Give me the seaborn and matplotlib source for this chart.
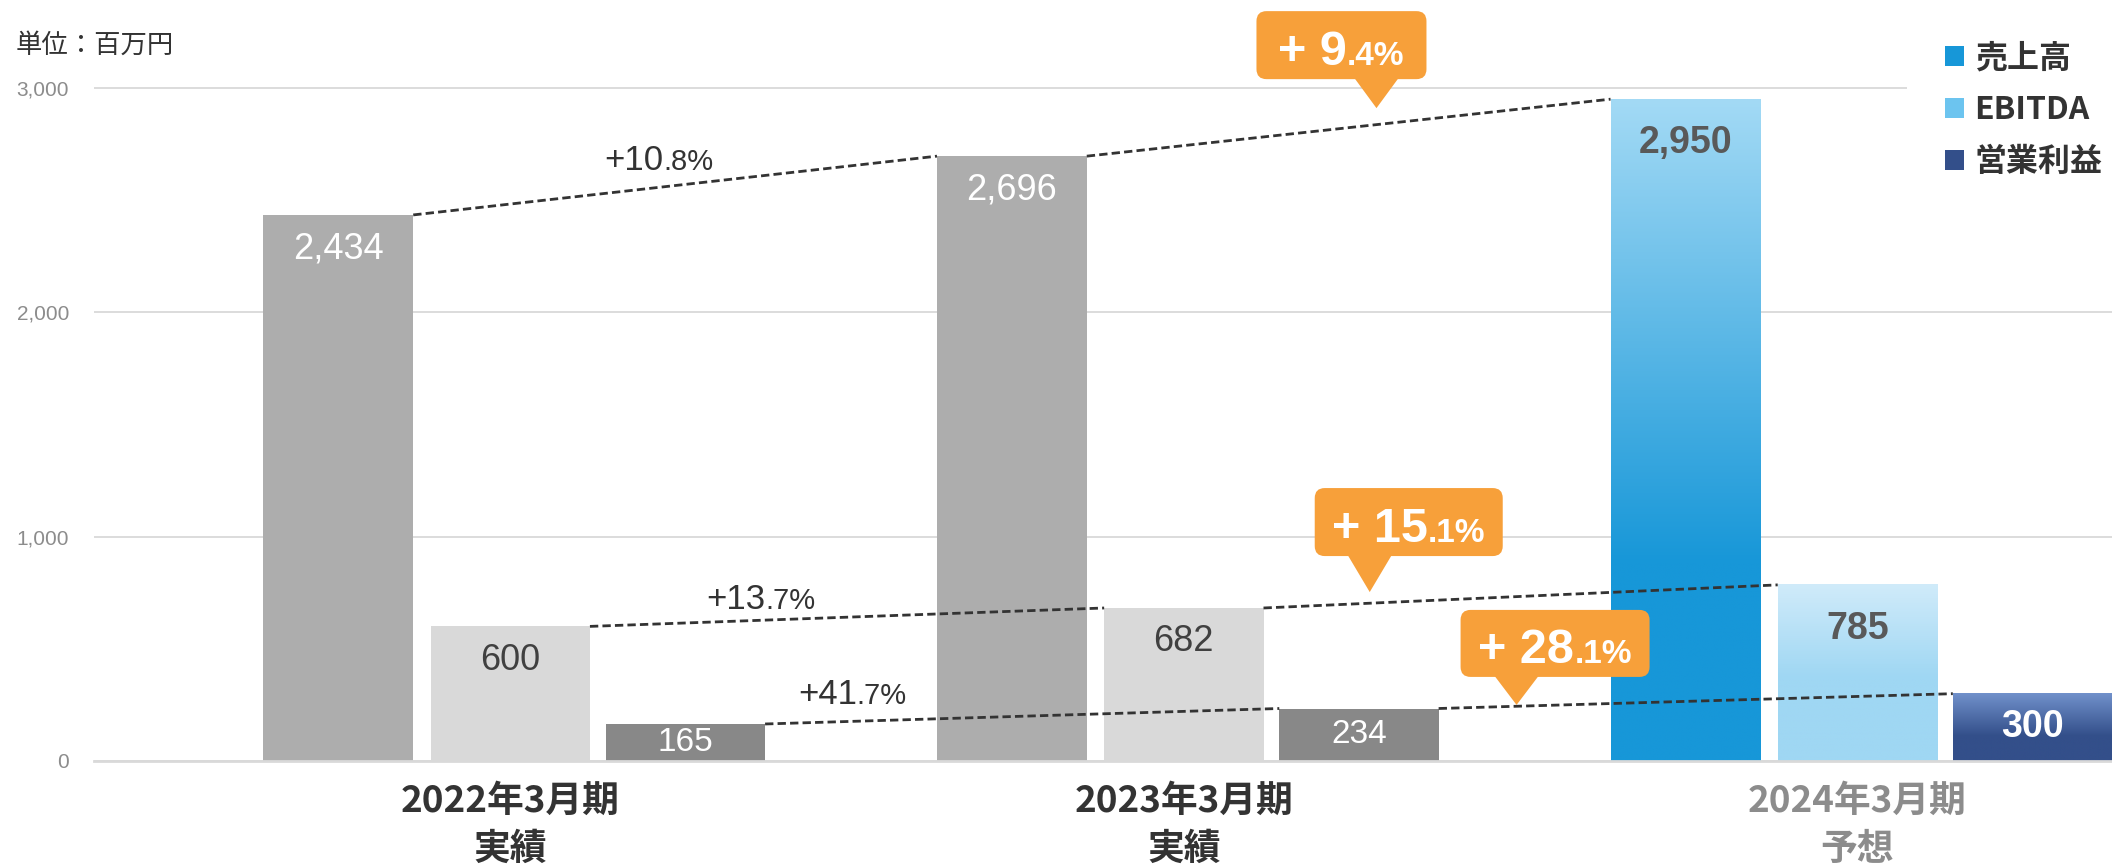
import numpy as np
import pandas as pd
import matplotlib
matplotlib.use("Agg")
import matplotlib.pyplot as plt
import matplotlib.colors as mcolors
import seaborn as sns
from matplotlib.patches import Patch, FancyBboxPatch, Polygon
from matplotlib.transforms import ScaledTranslation

# ---------------- DATA ----------------
periods = ["2022年3月期\n実績", "2023年3月期\n実績", "2024年3月期\n予想"]
forecast = [False, False, True]
series = ["売上高", "EBITDA", "営業利益"]
sales = [2434, 2696, 2950]
ebitda = [600, 682, 785]
op_income = [165, 234, 300]
growth_prev = ["+10.8%", "+13.7%", "+41.7%"]   # 2022 -> 2023
growth_next = ["+9.4%", "+15.1%", "+28.1%"]    # 2023 -> 2024 (callouts)
y_ticks = [0, 1000, 2000, 3000]
# --------------------------------------

DPI = 100
W, H = 2112, 865
PX = 1 / DPI

series_colors = ["#1797d8", "#6cc4ef", "#334f8a"]
gray_colors = ["#adadad", "#d9d9d9", "#888888"]
# gradient for forecast bars: (solid part as share of bar height, bottom colour, top colour)
gradients = [(0.30, "#1797d8", "#a3daf5"),
             (0.47, "#9fd7f3", "#d0ebfa"),
             (0.37, "#334f8a", "#7191cb")]
ORANGE = "#f7a03a"
DARK = "#333333"

sns.set_style("white")
plt.rcParams["font.family"] = ["Liberation Sans", "Noto Sans CJK JP", "DejaVu Sans"]
plt.rcParams["lines.scale_dashes"] = False
JP = ["Noto Sans CJK JP", "DejaVu Sans"]

fig = plt.figure(figsize=(W / DPI, H / DPI), dpi=DPI)
ax = fig.add_axes([94 / W, 104 / H, 2018 / W, 761 / H])

values = [sales, ebitda, op_income]
df = pd.DataFrame({
    "period": periods * len(series),
    "series": np.repeat(series, len(periods)),
    "value": sales + ebitda + op_income,
})

sns.barplot(data=df, x="period", y="value", hue="series", hue_order=series,
            palette=series_colors, saturation=1, width=0.78, gap=0.09,
            errorbar=None, legend=False, ax=ax, zorder=2)

XLIM = (-0.618, 2.378)
YLIM = (0, 3392)

# sales bars are a little narrower than the others
for p in ax.containers[0].patches:
    w = p.get_width()
    p.set_x(p.get_x() + w * 0.05)
    p.set_width(w * 0.94)

# recolour bars: actuals in gray, forecast with gradient
for i, cont in enumerate(ax.containers):
    for j, p in enumerate(cont.patches):
        p.set_edgecolor("none")
        if not forecast[j]:
            p.set_facecolor(gray_colors[i])
            continue
        solid, c0, c1 = gradients[i]
        x0, w, h = p.get_x(), p.get_width(), p.get_height()
        t = np.linspace(0, 1, 256)
        k = np.clip((t - solid) / (1 - solid), 0, 1)[:, None]
        rgb = (1 - k) * np.array(mcolors.to_rgb(c0)) + k * np.array(mcolors.to_rgb(c1))
        ax.imshow(rgb[:, None, :], extent=[x0, x0 + w, 0, h], origin="lower",
                  aspect="auto", interpolation="bilinear", zorder=2.1)
        p.set_facecolor(c0)

ax.set_xlim(*XLIM)
ax.set_ylim(*YLIM)

# bar value labels
label_colors_actual = ["white", "#404040", "white"]
label_colors_fc = ["#595959", "#595959", "white"]
for i, cont in enumerate(ax.containers):
    for j, p in enumerate(cont.patches):
        v = values[i][j]
        cx = p.get_x() + p.get_width() / 2
        if forecast[j]:
            color, weight, size = label_colors_fc[i], "bold", 27
            dy = -44 if i < 2 else None
        else:
            color, weight, size = label_colors_actual[i], "normal", 26 if i < 2 else 24
            dy = -34 if i < 2 else None
        if dy is None:
            ax.text(cx, v / 2, f"{v:,}", ha="center", va="center", color=color,
                    fontsize=size, fontweight=weight, zorder=5)
        else:
            ax.annotate(f"{v:,}", (cx, v), xytext=(0, dy * 0.72), textcoords="offset points",
                        ha="center", va="center", color=color, fontsize=size,
                        fontweight=weight, zorder=5)

# dashed connectors between consecutive bars of each series
for cont in ax.containers:
    pts = cont.patches
    for j in range(len(pts) - 1):
        a, b = pts[j], pts[j + 1]
        ax.plot([a.get_x() + a.get_width(), b.get_x()], [a.get_height(), b.get_height()],
                color=DARK, lw=2.0, dashes=(6, 3), zorder=4, solid_capstyle="butt")

renderer = fig.canvas.get_renderer()


def split_label(s):
    head, tail = s.split(".")
    return head, "." + tail


def two_size_text(x, y, big, small, big_size, small_size, transform, **kw):
    # big part then small part, centred together on x, sharing one baseline
    tb = ax.text(x, y, big, ha="right", va="baseline", fontsize=big_size,
                 transform=transform, **kw)
    ts = ax.text(x, y, small, ha="left", va="baseline", fontsize=small_size,
                 transform=transform, **kw)
    wb = tb.get_window_extent(renderer).width
    ws = ts.get_window_extent(renderer).width
    shift = ScaledTranslation((wb - ws) / 2 * PX, 0, fig.dpi_scale_trans)
    tb.set_transform(transform + shift)
    ts.set_transform(transform + shift)


# plain growth labels 2022 -> 2023 (centre x, baseline y in data units)
plain_pos = [(0.2205, 2634), (0.372, 678), (0.508, 252)]
for s, (x, y) in zip(growth_prev, plain_pos):
    big, small = split_label(s)
    two_size_text(x, y, big, small, 25, 21, ax.transData, color=DARK, zorder=5)

# orange callouts 2023 -> 2024: tip (data), box edges relative to tip in px
callouts = [((1.286, 2910), (-120, 50, 29, 97)),
            ((1.276, 753), (-55, 133, 36, 104)),
            ((1.494, 250), (-56, 133, 28, 95))]
for s, (tip, (l, r, b, t)) in zip(growth_next, callouts):
    tr = fig.dpi_scale_trans + ScaledTranslation(tip[0], tip[1], ax.transData)
    box = FancyBboxPatch((l * PX, b * PX), (r - l) * PX, (t - b) * PX,
                         boxstyle=f"round,pad=0,rounding_size={10 * PX}",
                         transform=tr, fc=ORANGE, ec="none", zorder=6, clip_on=False)
    ax.add_patch(box)
    hw = 22
    tri = Polygon([(-hw * PX, (b + 1) * PX), (hw * PX, (b + 1) * PX), (0, 0)],
                  closed=True, transform=tr, fc=ORANGE, ec="none", zorder=6, clip_on=False)
    ax.add_patch(tri)
    head, small = split_label(s)
    big = head.replace("+", "+ ")
    two_size_text((l + r) / 2 * PX, (b + 14) * PX, big, small, 35, 24, tr,
                  fontweight="bold", color="white", zorder=7)

# axes styling
ax.set_xlabel("")
ax.set_ylabel("")
ax.set_yticks(y_ticks)
ax.set_yticklabels([f"{v:,}" for v in y_ticks], fontsize=15, color="#8c8c8c")
ax.set_xticks(range(len(periods)))
ax.set_xticklabels(periods, fontsize=26.5, fontweight="bold", family=JP, linespacing=1.38)
for lbl, fc in zip(ax.get_xticklabels(), forecast):
    lbl.set_color("#8c8c8c" if fc else DARK)
ax.tick_params(axis="y", length=0, pad=18)
ax.tick_params(axis="x", length=0, pad=16)
ax.yaxis.grid(True, color="#d9d9d9", lw=1.3)
ax.set_axisbelow(True)
for side in ["top", "right", "left"]:
    ax.spines[side].set_visible(False)
ax.spines["bottom"].set_color("#d9d9d9")
ax.spines["bottom"].set_linewidth(2)
ax.set_xlim(*XLIM)
ax.set_ylim(*YLIM)

# legend
handles = [Patch(facecolor=c, edgecolor="none", label=s) for c, s in zip(series_colors, series)]
leg = ax.legend(handles=handles, loc="upper right", bbox_to_anchor=(1.0137, 1 - 4 / H),
                bbox_transform=fig.transFigure, borderaxespad=0, borderpad=1.2,
                frameon=True, framealpha=1, facecolor="white", edgecolor="none",
                handlelength=0.6, handleheight=0.6, handletextpad=0.33, labelspacing=0.62,
                prop={"family": JP, "weight": "bold", "size": 23})
for txt in leg.get_texts():
    txt.set_color(DARK)

fig.text(16 / W, 1 - 45 / H, "単位：百万円", ha="left", va="center",
         fontsize=19, color=DARK, family=JP)

fig.savefig("out.png", dpi=DPI)
